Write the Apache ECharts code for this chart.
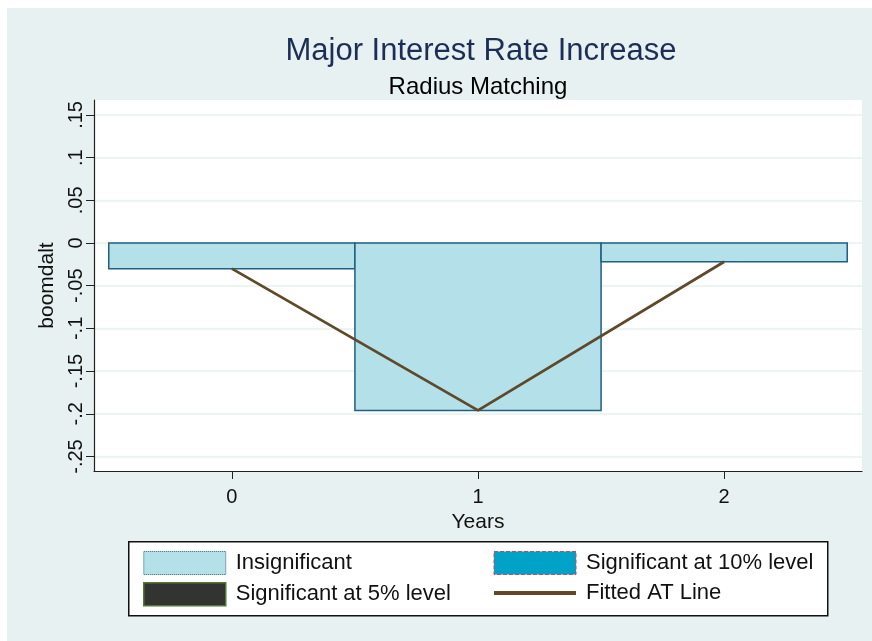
<!DOCTYPE html>
<html>
<head>
<meta charset="utf-8">
<script src="https://cdn.jsdelivr.net/npm/echarts@6/dist/echarts.min.js"></script>
<style>
  html, body { margin: 0; padding: 0; background: #ffffff; }
  #chart { position: absolute; left: 7px; top: 8px; width: 865px; height: 633px; }
</style>
</head>
<body>
<div id="chart"></div>
<script>
// Event-time estimates around a major interest rate increase
const years = [0, 1, 2];
const boomdalt = [-0.030, -0.196, -0.022];
const fittedAT = [-0.030, -0.196, -0.022];

// Axis ticks and their printed labels
const xTicks = [0, 1, 2];
const xTickLabels = ['0', '1', '2'];
const yTicks = [-0.25, -0.2, -0.15, -0.1, -0.05, 0, 0.05, 0.1, 0.15];
const yTickLabels = ['-.25', '-.2', '-.15', '-.1', '-.05', '0', '.05', '.1', '.15'];

const FONT = '"Liberation Sans", Arial, Helvetica, sans-serif';

function labelFor(ticks, labels) {
  return function (v) {
    for (let i = 0; i < ticks.length; i++) {
      if (Math.abs(ticks[i] - v) < 1e-9) return labels[i];
    }
    return '';
  };
}

const barData = years.map((y, i) => [y, boomdalt[i]]);
const lineData = years.map((y, i) => [y, fittedAT[i]]);

// Each bar spans one year, centred on its tick
function drawBar(params, api) {
  const x = api.value(0), v = api.value(1);
  const a = api.coord([x - 0.5, 0]);
  const b = api.coord([x + 0.5, v]);
  return {
    type: 'rect',
    shape: { x: a[0], y: Math.min(a[1], b[1]), width: b[0] - a[0], height: Math.abs(b[1] - a[1]) },
    style: { fill: '#B4E0E9', stroke: '#1F5F7F', lineWidth: 1.5 }
  };
}

const chart = echarts.init(document.getElementById('chart'), null, { renderer: 'canvas' });

const legendText = { fontFamily: FONT, fontSize: 22, color: '#111111', padding: [0, 0, 0, 5] };

chart.setOption({
  backgroundColor: '#E8F1F1',
  animation: false,
  textStyle: { fontFamily: FONT },
  title: [
    {
      text: 'Major Interest Rate Increase',
      left: 469, top: 23, textAlign: 'center',
      textStyle: { fontFamily: FONT, fontSize: 31, fontWeight: 'normal', color: '#1C2E55' }
    },
    {
      text: 'Radius Matching',
      left: 466, top: 62, textAlign: 'center',
      textStyle: { fontFamily: FONT, fontSize: 24, fontWeight: 'normal', color: '#000000' }
    }
  ],
  grid: {
    left: 87, right: 10, top: 92, bottom: 170,
    show: true, backgroundColor: '#ffffff', borderWidth: 0
  },
  xAxis: {
    type: 'value',
    min: -0.56, max: 2.56,
    name: 'Years', nameLocation: 'middle', nameGap: 31,
    nameTextStyle: { fontFamily: FONT, fontSize: 21, color: '#111111' },
    axisLine: { show: true, onZero: false, lineStyle: { color: '#222222', width: 1.2 } },
    axisTick: { show: true, length: 8, customValues: xTicks, lineStyle: { color: '#222222', width: 1 } },
    axisLabel: {
      customValues: xTicks, margin: 16,
      fontFamily: FONT, fontSize: 20, color: '#111111',
      formatter: labelFor(xTicks, xTickLabels)
    },
    splitLine: { show: false }
  },
  yAxis: {
    type: 'value',
    min: -0.267, max: 0.1675,
    name: 'boomdalt', nameLocation: 'middle', nameGap: 33, nameRotate: 90,
    nameTextStyle: { fontFamily: FONT, fontSize: 21, color: '#111111' },
    axisLine: { show: true, onZero: false, lineStyle: { color: '#222222', width: 1.2 } },
    axisTick: { show: true, length: 8, customValues: yTicks, lineStyle: { color: '#222222', width: 1 } },
    axisLabel: {
      customValues: yTicks, rotate: 90, margin: 8,
      fontFamily: FONT, fontSize: 20, color: '#111111',
      formatter: labelFor(yTicks, yTickLabels)
    },
    splitLine: { show: true, lineStyle: { color: '#E6F0F1', width: 1.5 } }
  },
  legend: [
    {
      left: 131, top: 538, orient: 'vertical', itemGap: 7,
      itemWidth: 82, itemHeight: 23, selectedMode: false,
      textStyle: legendText,
      data: [
        { name: 'Insignificant', icon: 'rect',
          itemStyle: { color: '#B4E0E9', borderColor: '#1F5F7F', borderWidth: 1, borderType: 'dotted' } },
        { name: 'Significant at 5% level', icon: 'rect',
          itemStyle: { color: '#333333', borderColor: '#4E7A34', borderWidth: 1.5, borderType: 'solid' } }
      ]
    },
    {
      left: 480, top: 538, orient: 'vertical', itemGap: 7,
      itemWidth: 82, itemHeight: 23, selectedMode: false,
      textStyle: legendText,
      data: [
        { name: 'Significant at 10% level', icon: 'rect',
          itemStyle: { color: '#00A3C7', borderColor: '#D0474A', borderWidth: 1, borderType: 'dashed' } },
        { name: 'Fitted AT Line',
          itemStyle: { opacity: 0 },
          lineStyle: { width: 4, color: '#5E4A2A' } }
      ]
    }
  ],
  graphic: [
    {
      type: 'rect', left: 121, top: 533, z: -1,
      shape: { width: 699, height: 74 },
      style: { fill: '#ffffff', stroke: '#111111', lineWidth: 1.5 }
    }
  ],
  series: [
    {
      name: 'Insignificant', type: 'custom',
      renderItem: drawBar, encode: { x: 0, y: 1 },
      itemStyle: { color: '#B4E0E9' },
      data: barData, z: 2
    },
    {
      name: 'Significant at 10% level', type: 'custom',
      renderItem: drawBar, encode: { x: 0, y: 1 },
      itemStyle: { color: '#00A3C7' },
      data: [], z: 2
    },
    {
      name: 'Significant at 5% level', type: 'custom',
      renderItem: drawBar, encode: { x: 0, y: 1 },
      itemStyle: { color: '#333333' },
      data: [], z: 2
    },
    {
      name: 'Fitted AT Line', type: 'line',
      data: lineData, symbol: 'none', z: 5,
      lineStyle: { color: '#5E4A2A', width: 2.8 },
      itemStyle: { color: '#5E4A2A' }
    }
  ]
});
</script>
</body>
</html>
